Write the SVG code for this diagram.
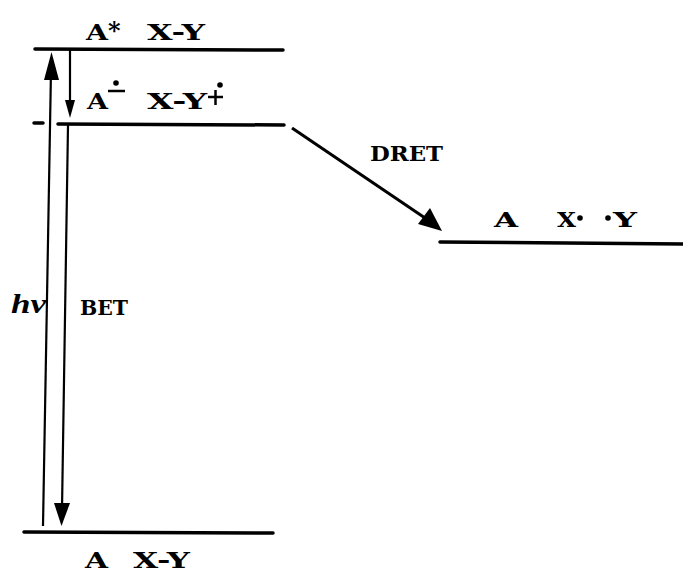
<svg xmlns="http://www.w3.org/2000/svg" width="683" height="572" viewBox="0 0 683 572">
<style>
.lvl{stroke:#000;stroke-width:3.5;stroke-linecap:round;fill:none}
.ar{stroke:#000;stroke-width:2.2;fill:none}
.t{font-family:"DejaVu Serif","Liberation Serif",serif;font-weight:bold;fill:#000}
</style>
<rect width="683" height="572" fill="#fff"/>
<g id="level-excited">
<line class="lvl" x1="35" y1="49" x2="283" y2="50"/>
<text class="t" x="86" y="40" font-size="23" textLength="22" lengthAdjust="spacingAndGlyphs">A</text>
<text class="t" x="108" y="39" font-size="24">*</text>
<text class="t" x="147" y="40" font-size="23" textLength="58" lengthAdjust="spacingAndGlyphs">X-Y</text>
</g>
<g id="level-ionpair">
<line class="lvl" x1="34" y1="123" x2="43" y2="123"/>
<line class="lvl" x1="58" y1="124" x2="284" y2="125"/>
<text class="t" x="87" y="109" font-size="23" textLength="21" lengthAdjust="spacingAndGlyphs">A</text>
<circle cx="116" cy="83" r="2.8"/>
<line x1="108" y1="91" x2="125" y2="91" stroke="#000" stroke-width="2.5"/>
<text class="t" x="147" y="109" font-size="23" textLength="60" lengthAdjust="spacingAndGlyphs">X-Y</text>
<circle cx="220" cy="85" r="2.8"/>
<line x1="208" y1="97" x2="223" y2="97" stroke="#000" stroke-width="2.5"/>
<line x1="215.5" y1="90" x2="215.5" y2="105" stroke="#000" stroke-width="2.5"/>
</g>
<g id="level-radicals">
<line class="lvl" x1="440" y1="242" x2="683" y2="244"/>
<text class="t" x="494" y="227" font-size="21" textLength="24" lengthAdjust="spacingAndGlyphs">A</text>
<text class="t" x="557" y="227" font-size="21" textLength="19" lengthAdjust="spacingAndGlyphs">X</text>
<circle cx="580" cy="218" r="2.8"/>
<circle cx="608" cy="218" r="2.8"/>
<text class="t" x="613" y="227" font-size="21" textLength="24" lengthAdjust="spacingAndGlyphs">Y</text>
</g>
<g id="level-ground">
<line class="lvl" x1="24" y1="532" x2="273" y2="533"/>
<text class="t" x="85" y="568" font-size="23" textLength="23" lengthAdjust="spacingAndGlyphs">A</text>
<text class="t" x="133" y="568" font-size="23" textLength="57" lengthAdjust="spacingAndGlyphs">X-Y</text>
</g>
<g id="connectors">
<line class="ar" x1="43" y1="526" x2="51" y2="70"/>
<polygon points="51.5,52 44,80 59,80"/>
<line class="ar" x1="70" y1="50" x2="70" y2="105"/>
<polygon points="70,118 65,100 75,100"/>
<line class="ar" x1="68" y1="125" x2="62" y2="510"/>
<polygon points="61.5,526 54,503 70,503"/>
<line x1="292" y1="128" x2="428" y2="220" stroke="#000" stroke-width="3"/>
<polygon points="442,231 418,224 430,208"/>
<text x="11" y="313" font-family="Liberation Serif,serif" font-style="italic" font-weight="bold" font-size="28" textLength="35" lengthAdjust="spacingAndGlyphs">hν</text>
<text class="t" x="80" y="315" font-size="20" textLength="48" lengthAdjust="spacingAndGlyphs">BET</text>
<text class="t" x="370" y="161" font-size="21" textLength="73" lengthAdjust="spacingAndGlyphs">DRET</text>
</g>
</svg>
